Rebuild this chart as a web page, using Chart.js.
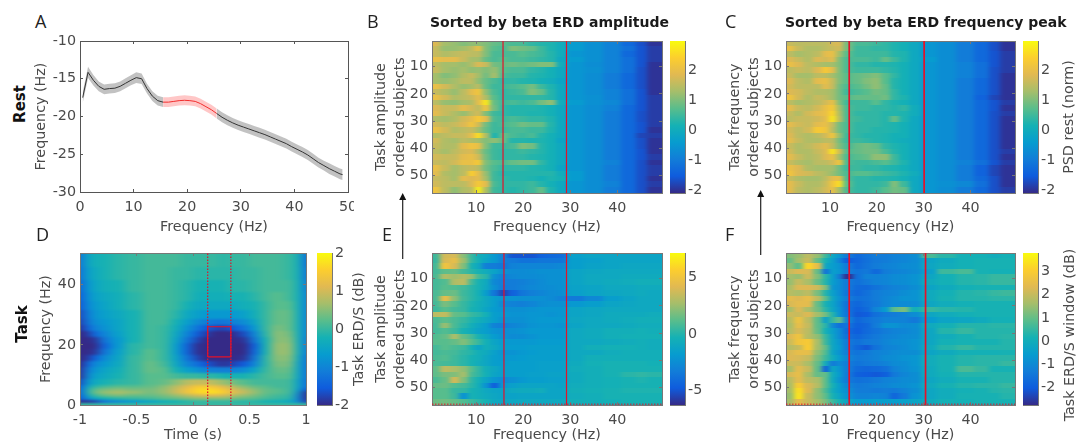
<!DOCTYPE html>
<html>
<head>
<meta charset="utf-8">
<script src="https://cdn.jsdelivr.net/npm/chart.js@4"></script>
<style>
html, body { margin: 0; background: #fff; }
#fig { position: relative; width: 1077px; height: 446px; overflow: hidden; background: #fff; filter: blur(0.4px); font-family: "DejaVu Sans", sans-serif; color: #222; }
#fig canvas { position: absolute; }
.cells { position: absolute; overflow: hidden; background: #18a4bc; }
.txt { position: absolute; white-space: nowrap; }
.letter { font: 18px "Open Sans", sans-serif; color: #222; }
.head { font: bold 14px "DejaVu Sans", sans-serif; color: #1a1a1a; }
.side { font: bold 15px "DejaVu Sans", sans-serif; color: #111; transform: translate(-50%, -50%) rotate(-90deg); }
.cbt { font: 14.3px "DejaVu Sans", sans-serif; color: #4a4a4a; transform: translate(-50%, -50%) rotate(-90deg); }
</style>
</head>
<body>
<svg width="0" height="0" style="position:absolute">
  <filter id="softRows" x="-5%" y="-5%" width="110%" height="110%" color-interpolation-filters="sRGB"><feGaussianBlur stdDeviation="2.5 0.6"/></filter>
  <filter id="softMap" x="-5%" y="-5%" width="110%" height="110%" color-interpolation-filters="sRGB"><feGaussianBlur stdDeviation="5 1.2"/></filter>
</svg>
<div id="fig"></div>
<script>
// panel A, mean rest spectrum
var freqA = [0.5,1.5,2.5,3.5,4.5,5.5,6.5,7.5,8.5,9.5,10.5,11.5,12.5,13.5,14.5,15.5,16.5,17.5,18.5,19.5,20.5,21.5,22.5,23.5,24.5,25.5,26.5,27.5,28.5,29.5,30.5,31.5,32.5,33.5,34.5,35.5,36.5,37.5,38.5,39.5,40.5,41.5,42.5,43.5,44.5,45.5,46.5,47.5,48.5,49];
var meanA = [-17.5,-14.15,-15.2,-16,-16.4,-16.3,-16.25,-16,-15.6,-15.2,-14.85,-15,-16.3,-17.3,-17.9,-18.1,-18.1,-18,-17.9,-17.85,-17.9,-18,-18.3,-18.7,-19.1,-19.6,-20.1,-20.5,-20.85,-21.15,-21.4,-21.65,-21.9,-22.15,-22.4,-22.7,-23,-23.3,-23.6,-24,-24.35,-24.7,-25.1,-25.6,-26.1,-26.5,-26.9,-27.25,-27.6,-27.7];
var semA = [0.7,0.75,0.7,0.65,0.65,0.65,0.65,0.65,0.65,0.65,0.7,0.7,0.65,0.65,0.65,0.65,0.65,0.65,0.65,0.65,0.65,0.65,0.65,0.65,0.65,0.65,0.65,0.65,0.65,0.65,0.65,0.65,0.65,0.65,0.65,0.65,0.65,0.65,0.65,0.65,0.65,0.65,0.65,0.65,0.65,0.65,0.7,0.7,0.72,0.72];
var betaBandA = [15.5, 25.5];

// shared heatmap bins, subjects are grouped in pairs
var freqEdges = [0.5,2.5,4.5,6.5,8.5,10,11.5,13,15,17,19,21,23,25,27,29.5,33,37,41,44,46.5,49.5];
var subjEdges = [0.5,2.5,4.5,6.5,8.5,10.5,12.5,14.5,16.5,18.5,20.5,22.5,24.5,26.5,28.5,30.5,32.5,34.5,36.5,38.5,40.5,42.5,44.5,46.5,48.5,50.5,52.5,54.5,56.5];

var valuesB = [
[1.8,1.3,1.2,1.0,1.1,1.1,1.0,0.8,0.7,0.6,0.6,0.4,0.3,0.2,0.0,-0.4,-0.6,-0.9,-1.3,-1.7,-2.0],
[1.6,1.2,1.2,1.3,1.5,2.0,1.0,0.7,0.6,1.0,0.9,0.8,0.5,0.2,0.0,-0.4,-0.6,-0.9,-1.2,-1.6,-1.9],
[1.6,1.4,1.5,1.6,1.5,1.5,1.0,0.6,0.6,0.6,0.7,0.6,0.5,0.3,0.0,-0.5,-0.6,-0.9,-1.3,-1.6,-1.9],
[2.0,1.9,1.9,1.6,1.3,1.3,0.8,0.6,0.7,0.6,0.6,0.5,0.4,0.3,-0.1,-0.4,-0.6,-0.9,-1.2,-1.6,-1.9],
[1.5,1.3,1.3,1.2,1.4,1.8,1.6,0.9,0.8,0.9,0.8,0.9,1.0,1.0,0.0,-0.5,-0.7,-0.9,-1.2,-1.6,-2.0],
[1.6,1.3,1.2,1.3,1.1,1.2,1.0,1.2,0.7,0.6,0.6,0.4,0.3,0.1,-0.1,-0.5,-0.6,-0.9,-1.2,-1.7,-2.0],
[1.3,1.0,1.1,1.4,1.6,1.3,0.9,1.3,0.6,0.5,0.5,0.3,0.2,0.1,-0.1,-0.5,-0.7,-1.0,-1.3,-1.7,-2.0],
[1.3,1.2,1.3,1.5,1.5,1.1,0.8,0.6,0.4,0.4,0.3,0.2,0.1,0.0,-0.2,-0.5,-0.7,-1.0,-1.3,-1.7,-2.0],
[2.0,1.7,1.4,1.2,1.3,1.5,0.8,0.5,0.5,0.6,0.7,0.9,0.5,0.2,-0.1,-0.5,-0.7,-1.0,-1.3,-1.7,-2.0],
[1.6,1.4,1.2,1.5,1.9,2.2,1.1,0.6,0.4,0.5,0.6,1.0,0.8,0.3,-0.1,-0.5,-0.7,-0.9,-1.2,-1.6,-2.0],
[2.0,1.7,1.4,1.5,1.6,1.9,1.4,0.7,0.4,0.4,0.4,0.4,0.4,0.3,-0.1,-0.5,-0.6,-0.9,-1.2,-1.6,-1.9],
[1.5,1.2,1.1,1.3,1.4,1.9,2.7,0.8,0.5,0.6,0.5,0.6,0.9,1.1,0.0,-0.4,-0.6,-0.8,-1.2,-1.6,-1.9],
[1.8,1.6,1.6,1.9,1.7,1.5,2.1,0.9,0.4,0.3,0.3,0.3,0.2,0.1,-0.1,-0.5,-0.7,-0.9,-1.3,-1.6,-1.9],
[1.9,1.6,1.4,1.2,1.5,1.7,1.0,0.5,0.4,0.3,0.3,0.2,0.2,0.1,-0.1,-0.5,-0.7,-1.0,-1.3,-1.7,-1.9],
[1.4,1.3,1.4,1.7,1.9,2.3,1.9,0.6,0.5,0.6,0.5,0.4,0.4,0.2,-0.1,-0.5,-0.7,-1.0,-1.3,-1.7,-1.9],
[1.7,1.5,1.6,1.8,2.2,1.7,0.9,0.5,0.6,0.7,0.9,0.8,0.8,0.3,-0.1,-0.5,-0.7,-1.0,-1.3,-1.6,-1.9],
[2.0,1.7,1.4,1.5,1.6,1.3,0.8,0.5,0.5,0.6,0.6,0.5,0.5,0.2,-0.1,-0.5,-0.7,-1.0,-1.3,-1.6,-2.0],
[1.4,1.5,1.6,1.6,1.9,2.6,1.4,0.2,0.8,0.6,0.5,0.6,0.3,0.1,-0.1,-0.5,-0.7,-1.0,-1.3,-1.8,-1.9],
[1.7,1.4,1.3,1.5,1.4,1.3,1.0,1.1,0.8,0.3,0.3,0.2,0.2,0.1,-0.2,-0.5,-0.7,-1.0,-1.3,-1.7,-2.0],
[1.6,1.4,1.4,1.9,2.1,2.0,1.0,0.5,0.5,0.6,1.0,0.9,0.3,0.1,-0.1,-0.5,-0.7,-1.0,-1.3,-1.7,-2.0],
[1.5,1.3,1.5,1.7,1.8,1.4,0.8,0.5,0.4,0.4,0.5,0.4,0.3,0.1,-0.1,-0.5,-0.7,-1.0,-1.3,-1.6,-2.0],
[1.7,1.6,1.6,1.9,2.0,1.7,0.9,0.5,0.4,0.4,0.4,0.3,0.2,0.1,-0.1,-0.5,-0.7,-1.0,-1.3,-1.6,-1.9],
[1.6,1.5,1.7,2.0,2.0,2.3,1.0,0.7,0.6,0.8,0.9,0.9,0.4,0.1,-0.1,-0.5,-0.7,-0.9,-1.3,-1.7,-2.0],
[2.0,1.6,1.3,1.5,1.6,1.5,0.9,0.6,0.4,0.4,0.4,0.3,0.2,0.1,-0.2,-0.5,-0.7,-1.0,-1.3,-1.7,-1.9],
[1.9,1.4,1.3,1.5,2.4,1.9,1.2,0.5,0.3,0.3,0.3,0.3,0.3,0.3,0.0,-0.4,-0.7,-1.0,-1.3,-1.7,-1.9],
[1.6,1.5,1.3,1.9,1.8,1.9,1.3,0.5,0.4,0.3,0.3,0.2,0.1,0.2,0.1,-0.4,-0.7,-1.0,-1.3,-1.7,-2.0],
[1.7,1.5,1.5,1.5,1.8,2.3,1.9,0.6,0.4,0.4,0.4,0.5,0.3,0.1,-0.1,-0.5,-0.7,-0.9,-1.3,-1.7,-1.9],
[2.1,1.5,1.1,1.4,1.5,2.8,1.4,0.5,0.4,0.3,0.4,0.5,0.8,0.2,-0.1,-0.5,-0.7,-1.0,-1.3,-1.7,-2.0]
];

var valuesC = [
[1.6,1.5,1.5,1.5,1.5,1.7,1.8,0.9,0.6,0.6,0.5,0.4,0.2,0.1,-0.1,-0.5,-0.7,-1.0,-1.3,-1.7,-2.0],
[2.0,1.6,1.4,1.4,1.5,1.6,1.7,0.9,0.5,0.5,0.4,0.4,0.2,0.1,-0.1,-0.5,-0.7,-1.0,-1.3,-1.7,-2.0],
[1.5,1.3,1.4,1.5,1.9,2.0,1.3,0.7,0.5,0.5,0.5,0.5,0.3,0.2,-0.1,-0.5,-0.7,-1.0,-1.3,-1.6,-1.9],
[1.8,1.6,1.4,1.8,1.7,1.9,1.0,0.6,0.6,0.6,0.5,0.8,0.5,0.2,-0.1,-0.4,-0.7,-1.0,-1.3,-1.6,-1.9],
[2.0,1.8,1.5,1.4,1.3,1.3,1.0,0.6,0.4,0.4,0.3,0.3,0.2,0.1,-0.1,-0.5,-0.7,-0.9,-1.2,-1.6,-1.9],
[1.5,1.6,1.5,1.8,2.3,1.9,1.0,0.6,0.5,0.5,0.5,0.4,0.3,0.1,-0.1,-0.5,-0.7,-0.9,-1.2,-1.7,-1.9],
[1.6,1.3,1.3,1.5,1.5,1.3,1.0,0.7,0.8,0.9,1.0,0.7,0.4,0.1,-0.1,-0.5,-0.7,-0.9,-1.2,-1.7,-2.0],
[1.8,1.5,1.4,1.9,2.0,1.6,1.0,0.7,0.8,1.0,1.1,0.7,0.3,0.1,-0.1,-0.5,-0.7,-1.0,-1.3,-1.7,-2.0],
[1.7,1.5,1.5,1.5,1.9,1.6,0.9,0.6,0.7,0.9,1.1,0.8,0.3,0.1,-0.1,-0.5,-0.7,-1.0,-1.3,-1.7,-2.0],
[1.8,1.7,1.5,1.4,1.4,1.3,0.9,0.5,0.6,0.7,0.9,0.8,0.4,0.1,-0.1,-0.5,-0.7,-1.0,-1.3,-1.7,-2.0],
[2.1,1.7,1.4,1.6,1.5,1.3,0.9,0.7,0.8,0.8,0.8,0.9,0.4,0.2,-0.1,-0.5,-0.7,-1.0,-1.4,-1.8,-2.0],
[1.5,1.3,1.4,1.5,1.7,2.0,1.0,0.5,0.5,0.5,0.7,0.4,0.2,0.1,-0.1,-0.5,-0.7,-1.0,-1.3,-1.6,-1.9],
[1.9,1.6,1.5,1.7,2.0,2.3,1.3,0.6,0.5,0.5,0.4,0.4,0.3,0.4,0.0,-0.5,-0.7,-1.0,-1.3,-1.6,-2.0],
[1.6,1.4,1.7,1.9,2.0,2.5,1.4,0.6,0.4,0.4,0.4,0.3,0.3,0.2,0.0,-0.5,-0.7,-1.0,-1.3,-1.7,-1.9],
[1.5,1.6,1.6,1.7,1.9,2.7,1.5,0.6,0.5,0.4,0.4,0.3,0.8,0.2,-0.1,-0.5,-0.7,-1.0,-1.3,-1.7,-2.0],
[1.9,1.7,1.6,1.9,2.0,1.6,0.9,0.6,0.4,0.4,0.4,0.3,0.2,0.1,-0.1,-0.5,-0.7,-1.0,-1.3,-1.7,-2.0],
[1.7,1.5,1.7,2.3,2.2,1.5,0.9,0.6,0.4,0.4,0.3,0.3,0.2,0.1,-0.1,-0.5,-0.7,-1.0,-1.3,-1.7,-2.0],
[1.8,1.5,1.4,1.5,1.7,2.2,1.2,0.5,0.4,0.3,0.3,0.2,0.1,0.1,-0.1,-0.5,-0.7,-1.0,-1.3,-1.7,-2.0],
[1.9,1.6,1.4,1.4,1.5,1.5,0.9,0.5,0.5,0.4,0.3,0.2,0.1,0.0,-0.1,-0.5,-0.7,-1.0,-1.3,-1.7,-2.0],
[1.6,1.4,1.5,1.7,1.9,1.6,1.0,0.6,0.8,0.9,0.8,0.4,0.2,0.1,-0.1,-0.5,-0.7,-1.0,-1.3,-1.7,-2.0],
[1.7,1.4,1.4,1.6,1.8,2.7,1.7,0.7,0.8,0.9,0.9,0.6,0.3,0.1,-0.1,-0.5,-0.7,-1.0,-1.3,-1.7,-1.9],
[1.9,1.6,1.4,1.5,1.8,2.0,1.3,0.6,0.7,0.8,1.1,1.1,0.5,0.1,-0.1,-0.5,-0.7,-1.0,-1.3,-1.7,-2.0],
[1.6,1.4,1.3,1.5,1.5,1.7,2.2,0.6,0.5,0.5,0.6,0.7,0.5,0.2,-0.1,-0.5,-0.7,-0.9,-1.2,-1.6,-1.9],
[2.0,1.8,1.4,1.3,1.3,1.3,0.9,0.5,0.5,0.4,0.4,0.3,0.2,0.1,-0.1,-0.5,-0.7,-1.0,-1.4,-1.8,-2.0],
[2.1,1.8,1.7,1.5,1.4,1.2,0.9,0.6,0.7,0.7,0.6,0.5,0.4,0.2,0.0,-0.5,-0.7,-1.0,-1.4,-1.8,-2.0],
[1.6,1.4,1.3,1.3,1.5,1.9,2.0,0.6,0.4,0.4,0.3,0.3,0.2,0.1,-0.1,-0.5,-0.7,-1.0,-1.3,-1.7,-2.0],
[1.9,1.6,1.4,1.4,1.6,2.2,2.6,0.7,0.4,0.4,0.4,0.5,1.0,0.5,-0.1,-0.5,-0.6,-0.8,-1.2,-1.7,-2.0],
[1.9,1.5,1.4,1.5,1.7,2.0,1.3,0.6,0.4,0.4,0.5,0.7,0.9,0.8,-0.1,-0.5,-0.7,-1.0,-1.3,-1.7,-1.9]
];

var valuesE = [
[0.6,3.8,4.0,2.2,0.4,-0.6,-1.0,-2.0,-3.0,-5.0,-5.0,-5.0,-4.5,-4.2,-4.0,-1.5,-1.3,-1.3,-1.2,-1.2,-1.2],
[0.5,4.0,4.5,2.5,0.5,-0.4,-1.2,-2.0,-3.2,-3.5,-3.7,-3.8,-3.6,-3.6,-3.6,-1.6,-1.5,-1.3,-1.2,-1.2,-1.2],
[0.7,5.0,4.0,2.0,-0.2,-1.0,-3.2,-3.4,-3.6,-3.0,-2.9,-2.9,-2.9,-2.9,-2.8,-1.6,-1.4,-1.2,-1.1,-1.1,-1.1],
[0.7,1.3,1.5,0.8,0.1,-0.3,-0.7,-1.4,-2.4,-2.6,-2.6,-2.5,-2.4,-2.4,-2.4,-1.3,-1.1,-1.0,-1.0,-0.9,-0.9],
[0.9,3.0,2.5,3.0,2.4,0.7,0.1,-2.4,-3.2,-2.8,-2.6,-2.7,-2.5,-2.4,-2.4,-1.2,-1.0,-1.0,-0.8,-0.8,-0.8],
[0.7,1.0,3.0,3.3,0.7,-0.2,-0.8,-2.8,-3.3,-3.3,-3.2,-2.9,-2.6,-2.4,-2.3,-1.2,-1.0,-0.8,-0.7,-0.6,-0.6],
[0.8,1.2,1.0,0.7,0.2,-0.3,-1.0,-2.4,-3.5,-3.3,-3.0,-2.8,-2.7,-2.5,-2.4,-1.4,-1.2,-1.0,-0.9,-0.8,-0.8],
[0.9,1.5,1.6,0.6,0.1,-0.4,-1.6,-3.6,-5.5,-4.5,-3.6,-3.2,-2.9,-2.7,-2.5,-1.5,-1.2,-1.1,-0.9,-0.8,-0.9],
[0.9,4.5,2.2,0.7,0.1,-0.3,-0.9,-1.7,-2.2,-2.2,-2.3,-2.4,-2.4,-2.6,-3.0,-3.5,-2.8,-1.6,-1.2,-1.0,-1.0],
[0.7,1.8,1.2,0.4,-0.1,-0.5,-0.9,-1.7,-2.8,-3.1,-3.2,-2.9,-2.5,-2.4,-2.3,-1.9,-1.6,-1.2,-1.1,-1.0,-1.0],
[0.6,1.2,0.8,0.4,-0.2,-0.5,-1.2,-1.8,-2.2,-2.3,-2.3,-2.2,-2.1,-2.1,-2.1,-1.2,-1.1,-1.0,-0.9,-0.9,-0.9],
[3.2,3.4,1.4,1.2,0.5,0.1,-0.4,-1.6,-2.0,-2.2,-2.2,-2.1,-2.1,-2.2,-2.1,-1.2,-1.1,-0.8,-0.8,-0.8,-0.7],
[0.9,1.3,0.9,0.5,-0.1,-0.5,-0.9,-1.6,-2.3,-2.3,-2.4,-2.1,-2.0,-2.0,-2.0,-1.1,-1.0,-0.8,-0.7,-0.6,-0.6],
[0.7,2.4,0.9,0.2,-0.5,-1.1,-1.6,-3.0,-3.4,-2.9,-2.7,-2.2,-2.1,-2.1,-2.2,-1.3,-1.0,-0.9,-0.8,-0.7,-0.7],
[0.7,1.0,0.6,-0.2,-0.8,-1.4,-1.6,-2.2,-2.5,-2.4,-2.2,-2.0,-1.9,-1.9,-1.9,-1.0,-0.8,-0.6,-0.5,-0.4,-0.5],
[1.0,1.4,2.9,1.4,0.7,-0.2,-0.9,-1.8,-2.4,-2.6,-2.5,-2.2,-2.0,-2.0,-2.0,-1.0,-0.8,-0.6,-0.4,-0.4,-0.4],
[1.1,1.2,1.5,2.0,1.2,0.4,-0.4,-1.2,-1.8,-1.9,-1.9,-1.9,-1.8,-1.8,-1.8,-1.0,-0.9,-0.8,-0.7,-0.6,-0.7],
[0.8,1.1,0.9,0.6,-0.2,-1.2,-0.5,-1.0,-1.6,-1.8,-1.8,-1.7,-1.6,-1.7,-1.7,-1.0,-0.5,-0.4,-0.4,-0.6,-0.7],
[0.7,0.9,0.7,0.3,0.0,-0.6,-0.8,-1.5,-2.2,-2.2,-2.0,-1.8,-1.7,-1.7,-1.6,-1.0,-0.9,-0.7,-0.6,-0.6,-0.6],
[0.9,1.0,0.6,0.2,-0.3,-0.6,-1.1,-1.7,-1.9,-1.9,-1.8,-1.7,-1.6,-1.6,-1.6,-0.9,-0.6,-0.5,-0.5,-0.5,-0.6],
[0.9,0.8,0.6,0.1,-0.3,-0.7,-1.1,-1.6,-1.8,-1.7,-1.7,-1.6,-1.5,-1.5,-1.5,-0.8,-0.4,-0.2,-0.2,-0.3,-0.4],
[1.3,3.3,2.9,2.3,1.2,0.3,-0.5,-1.1,-1.7,-1.7,-1.6,-1.6,-1.5,-1.5,-1.5,-0.7,-0.5,-0.3,-0.3,-0.3,-0.3],
[1.3,1.8,2.0,2.7,0.9,0.3,-0.4,-1.2,-1.7,-1.7,-1.6,-1.5,-1.5,-1.4,-1.4,-0.8,-0.5,-0.2,0.1,0.3,0.2],
[0.9,1.5,3.8,2.0,0.3,-0.4,-1.2,-2.1,-2.7,-2.3,-1.9,-1.7,-1.6,-1.5,-1.5,-0.8,-0.6,-0.4,-0.2,-0.1,-0.2],
[1.4,1.6,1.0,0.8,0.2,-0.6,-2.2,-4.6,-2.0,-1.5,-1.2,-1.2,-1.3,-1.3,-1.4,-0.7,-0.5,-0.4,-0.3,-0.3,-0.3],
[1.1,1.1,0.5,0.3,-0.2,-0.5,-0.9,-1.2,-1.4,-1.0,-0.8,-0.8,-0.7,-1.2,-1.3,-0.6,-0.4,-0.2,-0.1,-0.1,-0.1],
[1.2,1.2,0.6,-2.2,-0.2,-0.5,-0.8,-1.1,-1.4,-1.4,-1.3,-1.2,-1.2,-1.2,-1.2,-0.7,-0.5,-0.3,-0.2,-0.2,-0.2],
[1.6,1.7,1.5,1.0,0.6,0.2,-0.3,-0.9,-1.1,-1.1,-1.0,-1.0,-1.0,-1.0,-1.0,-0.6,-0.5,-0.4,-0.3,-0.2,-0.3]
];

var valuesF = [
[1.3,1.5,1.9,1.5,0.6,-0.2,-0.7,-1.4,-1.7,-1.5,-1.3,-1.3,-1.2,-1.1,-0.9,0.7,0.4,0.1,0.1,0.0,0.1],
[1.0,1.6,2.0,1.0,0.2,-0.4,-1.2,-2.0,-1.8,-1.6,-1.4,-1.3,-1.2,-1.1,-1.0,-0.3,-0.1,0.1,0.2,0.2,0.2],
[1.4,0.9,3.2,2.5,-0.2,-0.5,-0.8,-1.4,-1.7,-1.5,-1.3,-1.2,-1.1,-1.0,-0.9,-0.2,0.0,0.1,0.2,0.2,0.2],
[2.0,2.3,2.2,1.0,-1.6,-0.4,-0.7,-1.3,-1.5,-1.4,-1.7,-1.3,-1.2,-1.1,-1.0,-0.4,0.6,0.7,0.2,0.1,0.1],
[1.6,1.5,2.1,1.3,0.4,-0.4,-1.3,-2.7,-1.6,-1.2,-1.2,-1.1,-1.0,-0.9,-0.8,-0.2,0.1,0.3,0.4,0.5,0.5],
[1.5,2.0,1.7,1.0,0.3,-0.5,-0.9,-1.4,-1.6,-1.4,-1.2,-1.1,-1.0,-0.9,-0.8,-0.1,0.1,0.3,0.4,0.5,0.5],
[1.7,2.3,2.3,2.1,1.3,-0.7,-0.9,-1.4,-1.7,-1.7,-1.5,-1.3,-1.2,-1.1,-0.9,-0.3,-0.1,0.1,0.2,0.2,0.2],
[1.8,1.7,1.9,1.2,0.3,-0.4,-0.9,-1.5,-1.8,-1.6,-1.3,-1.2,-1.1,-0.9,-0.8,-0.1,0.1,0.3,0.4,0.5,0.6],
[2.4,2.3,2.5,1.9,0.9,-0.2,-0.8,-1.3,-1.6,-1.5,-1.3,-1.1,-1.0,-0.8,-0.8,-0.1,0.2,0.3,0.3,0.4,0.4],
[2.2,2.4,2.4,1.0,0.2,-0.3,-0.9,-1.6,-1.8,-1.6,-1.4,-1.1,-1.0,-1.0,-0.9,-0.2,0.0,0.1,0.2,0.2,0.2],
[1.6,2.3,1.7,1.1,0.4,-0.2,-0.8,-1.6,-1.9,-1.7,-1.1,-0.6,0.9,1.2,0.1,0.5,0.4,0.3,0.2,0.2,0.2],
[2.1,2.0,2.3,1.6,1.1,0.3,-0.8,-1.5,-2.1,-2.0,-1.6,-1.4,-1.3,-1.2,-0.9,-0.2,0.0,0.1,0.2,0.2,0.2],
[1.8,2.6,1.9,0.9,-0.4,0.5,1.0,-1.2,-1.8,-1.6,-1.4,-1.2,-1.2,-1.2,-1.4,-0.6,-0.3,-0.2,-0.1,0.1,0.1],
[1.7,2.5,2.0,0.9,0.4,-1.0,-1.6,-1.5,-1.9,-1.8,-1.3,-0.8,-0.8,-1.0,-0.9,-0.1,0.1,0.3,0.3,0.4,0.4],
[1.8,2.2,1.9,1.0,0.1,-0.4,-1.0,-1.7,-2.0,-1.7,-1.5,-1.3,-1.2,-1.1,-1.0,-0.2,0.3,0.5,0.3,0.3,0.3],
[2.3,2.7,1.8,1.4,0.5,-0.3,-1.0,-1.6,-1.8,-1.6,-1.4,-1.2,-1.1,-1.0,-0.9,-0.2,0.0,0.2,0.3,0.3,0.4],
[2.1,2.8,2.9,1.7,0.6,-0.2,-0.7,-1.4,-1.6,-1.4,-1.3,-1.1,-1.0,-0.9,-0.8,-0.2,0.1,0.2,0.2,0.2,0.3],
[1.8,2.0,3.0,1.6,1.0,-0.2,-0.6,-1.4,-1.8,-2.1,-1.5,-1.2,-1.1,-1.0,-0.8,-0.1,0.3,0.5,0.3,0.3,0.3],
[2.2,2.5,2.5,1.4,0.8,-0.3,-0.8,-1.3,-1.5,-1.4,-1.2,-1.1,-1.0,-0.9,-0.9,-0.3,-0.1,0.1,0.1,0.1,0.2],
[2.3,2.2,2.0,1.2,0.6,0.0,-0.6,-1.1,-1.4,-1.3,-1.2,-1.0,-0.9,-0.8,-0.7,0.0,0.2,0.3,0.4,0.4,0.4],
[2.1,2.1,1.7,1.0,0.0,-1.4,-1.0,-1.3,-1.5,-1.4,-1.3,-1.2,-1.0,-0.9,-0.7,0.0,0.2,0.3,0.4,0.4,0.5],
[1.6,2.4,2.0,0.9,-1.9,-0.2,-0.7,-1.3,-1.7,-1.8,-1.7,-1.6,-1.2,-1.0,-0.8,-0.1,0.2,0.7,0.5,0.2,0.2],
[2.2,2.5,1.7,1.0,1.0,0.0,-0.6,-1.4,-1.9,-2.0,-2.1,-1.9,-1.4,-1.1,-0.9,-0.1,0.1,0.3,0.3,0.3,0.3],
[1.8,2.4,1.9,1.7,0.9,-0.1,-0.8,-1.4,-1.6,-1.5,-1.4,-1.2,-1.1,-1.0,-0.9,-0.2,0.0,0.2,0.2,0.3,0.3],
[1.7,3.0,2.2,1.8,0.9,0.2,-0.5,-1.1,-1.4,-1.3,-1.2,-1.1,-1.0,-0.9,-0.8,-0.1,0.2,0.3,0.4,0.4,0.5],
[1.6,3.3,2.3,1.4,0.7,0.0,-0.5,-0.9,-1.3,-1.3,-1.4,-1.3,-1.4,-1.2,-0.9,-0.2,0.0,0.1,0.2,0.3,0.4],
[1.5,3.4,2.0,1.4,0.9,0.2,-0.3,-0.8,-1.2,-1.2,-1.1,-1.2,-1.8,-1.4,-0.8,-0.2,0.0,0.2,0.2,0.2,0.3],
[1.6,2.4,2.0,1.6,1.2,0.6,0.2,-0.3,-0.6,-0.6,-0.5,-0.5,-0.5,-0.4,-0.3,-0.1,0.1,0.1,0.2,0.2,0.2]
];

// panel D, event related map
var timeEdgesD = [-1,-0.96,-0.9,-0.82,-0.72,-0.6,-0.45,-0.3,-0.2,-0.1,0,0.08,0.16,0.24,0.32,0.4,0.5,0.6,0.7,0.8,0.9,0.97,1];
var freqEdgesD = [0,1,2,3,4,5,6,7,9,11,13,15,17,19,21,23,25,27,29,32,35,38,42,46,50.5];
var valuesD = [
[0,0,0,0,0,0,0,0,0,0,0,0,0,0,0,0,0,0,0,0,0,0],
[-1.9,-1.9,-1.8,-1.2,-0.9,-0.7,-0.5,-0.3,-0.2,-0.1,0,0,0,0,0,-0.1,-0.1,-0.2,-0.3,-0.4,-0.9,-1.8],
[-1.6,-0.9,-0.5,-0.2,-0.1,0,0.1,0.2,0.3,0.4,0.5,0.5,0.5,0.5,0.4,0.3,0.2,0.1,0,-0.1,-1,-1.9],
[-1.5,-0.5,0,0.3,0.4,0.3,0.3,0.4,0.6,0.8,1,1.1,1.1,1,0.8,0.6,0.4,0.2,0.1,0,-1,-1.9],
[-1.4,-0.3,0.3,0.6,0.7,0.6,0.4,0.6,0.9,1.3,1.6,1.7,1.7,1.5,1.2,0.9,0.6,0.3,0.2,0.1,-0.8,-1.9],
[-1.4,-0.3,0.2,0.4,0.5,0.4,0.4,0.6,0.9,1.3,1.6,1.7,1.6,1.4,1.1,0.8,0.5,0.3,0.2,0.1,-0.6,-1.6],
[-1.5,-0.5,-0.1,0.1,0.2,0.2,0.3,0.5,0.8,1.1,1.4,1.4,1.3,1.1,0.8,0.5,0.3,0.2,0.1,0.1,-0.5,-1.3],
[-1.7,-0.8,-0.4,-0.2,-0.1,0,0.2,0.3,0.5,0.8,0.9,0.9,0.8,0.6,0.4,0.2,0.1,0.1,0.1,0.1,-0.5,-1.3],
[-1.9,-1.1,-0.6,-0.4,-0.2,0,0.2,0.2,0.1,0,0,-0.1,-0.1,-0.2,-0.2,-0.2,-0.1,0.1,0.2,0.2,-0.4,-1.2],
[-1.9,-1.2,-0.8,-0.5,-0.3,0,0.3,0.2,-0.2,-0.6,-0.8,-1,-1.1,-1.1,-1.1,-0.9,-0.5,0,0.3,0.3,-0.4,-1.2],
[-2,-1.5,-1,-0.7,-0.4,0,0.3,0.1,-0.4,-1,-1.3,-1.6,-1.8,-1.9,-1.8,-1.6,-1,-0.1,0.4,0.4,-0.4,-1.2],
[-2,-1.9,-1.5,-0.9,-0.5,0,0.2,0,-0.5,-1.2,-1.7,-2,-2,-2,-2,-1.9,-1.2,-0.1,0.5,0.5,-0.3,-1.2],
[-2,-2,-1.9,-1.2,-0.6,-0.1,0.2,0,-0.6,-1.4,-1.9,-2,-2,-2,-2,-2,-1.4,-0.2,0.6,0.6,-0.2,-1.1],
[-2,-2,-2,-1.4,-0.7,-0.1,0.1,0,-0.6,-1.4,-1.9,-2,-2,-2,-2,-2,-1.5,-0.2,0.6,0.6,-0.2,-1.1],
[-2,-2,-1.9,-1.2,-0.7,-0.2,0.1,0,-0.5,-1.2,-1.7,-2,-2,-2,-2,-1.9,-1.2,-0.2,0.5,0.5,-0.2,-1.1],
[-2,-1.9,-1.4,-1,-0.6,-0.2,0.1,0,-0.4,-1,-1.5,-1.8,-2,-2,-2,-1.7,-1,-0.1,0.5,0.4,-0.2,-1],
[-1.9,-1.5,-1.1,-0.8,-0.5,-0.2,0.1,0,-0.3,-0.8,-1.2,-1.5,-1.7,-1.8,-1.6,-1.3,-0.7,0,0.4,0.3,-0.2,-1],
[-1.8,-1.3,-0.9,-0.7,-0.5,-0.2,0.1,0.1,-0.2,-0.6,-0.9,-1.1,-1.2,-1.2,-1.1,-0.9,-0.5,0,0.3,0.3,-0.2,-1],
[-1.7,-1.2,-0.8,-0.6,-0.4,-0.2,0.1,0.1,-0.1,-0.4,-0.6,-0.7,-0.7,-0.7,-0.7,-0.6,-0.3,0,0.3,0.3,-0.2,-1],
[-1.6,-1,-0.7,-0.5,-0.3,-0.1,0.1,0.1,0,-0.2,-0.4,-0.4,-0.4,-0.4,-0.4,-0.3,-0.2,0,0.2,0.2,-0.2,-1],
[-1.5,-0.9,-0.6,-0.4,-0.3,-0.1,0.1,0.1,0,-0.1,-0.3,-0.3,-0.3,-0.3,-0.2,-0.2,-0.1,0.1,0.2,0.1,-0.2,-1],
[-1.4,-0.8,-0.5,-0.3,-0.2,0,0.1,0.1,0,-0.1,-0.2,-0.2,-0.2,-0.2,-0.1,-0.1,0,0.1,0.1,0.1,-0.2,-1.1],
[-1.3,-0.6,-0.4,-0.2,-0.1,0,0.1,0.1,0,0,-0.1,-0.1,-0.1,-0.1,-0.1,0,0,0.1,0.1,0,-0.2,-1.2],
[-1.2,-0.5,-0.3,-0.2,-0.1,0,0.1,0.1,0.1,0,0,0,0,-0.1,0,0,0.1,0.1,0.1,0,-0.2,-1.3]
];

// tick labels, colour limits, marked windows
var freqTicks = [10,20,30,40];
var subjTicks = [10,20,30,40,50];
var xTicksA = [0,10,20,30,40,50];
var yTicksA = [-30,-25,-20,-15,-10];
var xTicksD = [-1,-0.5,0,0.5,1];
var yTicksD = [0,20,40];
var climB = [-2.1,2.97];
var climD = [-2,2];
var climE = [-6.3,7.2];
var climF = [-2.75,3.79];
var cbTicksB = [-2,-1,0,1,2];
var cbTicksD = [-2,-1,0,1,2];
var cbTicksE = [-5,0,5];
var cbTicksF = [-2,-1,0,1,2,3];
var bandB = [15.7,29.2];
var bandC = [14.1,30.1];
var bandE = [15.9,29.2];
var bandF = [14.1,30.4];
var windowD = [0.13,0.335];
var windowFreqD = [16,26];

// parula stops
var parula = [[53,42,135],[15,92,221],[18,125,216],[7,156,207],[21,177,180],[89,189,140],[165,190,107],[225,185,82],[252,206,46],[249,251,14]];

var FONT = { family: '"DejaVu Sans", sans-serif', size: 14.3, lineHeight: 1.3 };
var INK = '#4a4a4a';
var RED = '#e3122a';
var fig = document.getElementById('fig');
var imgCache = {};

function parulaAt(t) {
    t = Math.max(0, Math.min(1, t)) * (parula.length - 1);
    var i = Math.min(Math.floor(t), parula.length - 2), f = t - i;
    var a = parula[i], b = parula[i + 1];
    return 'rgb(' + Math.round(a[0] + (b[0] - a[0]) * f) + ',' + Math.round(a[1] + (b[1] - a[1]) * f) + ',' + Math.round(a[2] + (b[2] - a[2]) * f) + ')';
}

function addCanvas(parent, l, t, w, h) {
    var c = document.createElement('canvas');
    c.width = w; c.height = h;
    c.style.left = l + 'px'; c.style.top = t + 'px';
    c.style.width = w + 'px'; c.style.height = h + 'px';
    parent.appendChild(c);
    return c;
}

// inward ticked box axis
function axis(pos, min, max, ticks, opt) {
    opt = opt || {};
    var horiz = pos === 'top' || pos === 'bottom';
    return {
        type: 'linear', position: pos, min: min, max: max, reverse: !!opt.reverse,
        axis: horiz ? 'x' : 'y',
        grid: { drawOnChartArea: false, tickLength: -3, tickColor: opt.color || '#555' },
        border: { color: opt.color || '#666', width: 1 },
        title: opt.title ? { display: true, text: opt.title, color: INK, font: FONT, padding: 0 } : { display: false },
        ticks: { display: !!opt.labels, color: INK, font: FONT, padding: opt.padding || 8, autoSkip: false, maxRotation: 0, callback: function (v) { return String(v); } },
        afterBuildTicks: function (s) { s.ticks = ticks.map(function (v) { return { value: v }; }); },
        afterFit: function (s) {
            if (horiz) s.height = opt.size || 0; else s.width = opt.size || 0;
            s.paddingTop = s.paddingBottom = s.paddingLeft = s.paddingRight = 0;
        }
    };
}

function boxScales(b) {
    return {
        x: axis('bottom', b.xMin, b.xMax, b.xTicks, { labels: true, size: b.mb, title: b.xTitle, padding: 9, color: b.frame }),
        y: axis('left', b.yMin, b.yMax, b.yTicks, { labels: true, size: b.ml, title: b.yTitle, reverse: b.reverse, padding: 7, color: b.frame }),
        xTop: axis('top', b.xMin, b.xMax, b.xTicks, { color: b.frame }),
        yRight: axis('right', b.yMin, b.yMax, b.yTicks, { reverse: b.reverse, color: b.frame })
    };
}

function baseOptions(scales, pad) {
    return {
        responsive: false, animation: false, events: [],
        layout: { autoPadding: false, padding: pad },
        plugins: { legend: { display: false }, tooltip: { enabled: false } },
        scales: scales
    };
}

function cellImage(ctx) {
    if (!ctx.raw) return 'rect';
    var r = ctx.raw, sc = ctx.chart.scales;
    var w = Math.ceil(Math.abs(sc.x.getPixelForValue(r.x1) - sc.x.getPixelForValue(r.x0))) + 1;
    var h = Math.ceil(Math.abs(sc.y.getPixelForValue(r.y1) - sc.y.getPixelForValue(r.y0))) + 1;
    var col = parulaAt(Math.round(r.t * 96) / 96);
    var key = col + w + 'x' + h;
    if (!imgCache[key]) {
        var c = document.createElement('canvas');
        c.width = w; c.height = h;
        var g = c.getContext('2d');
        g.fillStyle = col; g.fillRect(0, 0, w, h);
        imgCache[key] = c;
    }
    return imgCache[key];
}

function heatmap(p) {
    var W = p.R - p.L, H = p.B - p.T;
    var holder = document.createElement('div');
    holder.className = 'cells';
    holder.style.cssText = 'left:' + p.L + 'px;top:' + p.T + 'px;width:' + W + 'px;height:' + H + 'px';
    fig.appendChild(holder);
    // cell canvas runs past the frame so the blur does not fade at the edges
    var cv = addCanvas(holder, -p.padX, -p.padY, W + 2 * p.padX, H + 2 * p.padY);
    cv.style.filter = 'url(#' + p.soft + ')';
    var xLo = p.xMin - p.padX * (p.xMax - p.xMin) / W, xHi = p.xMax + p.padX * (p.xMax - p.xMin) / W;
    var yLo = p.yMin - p.padY * (p.yMax - p.yMin) / H, yHi = p.yMax + p.padY * (p.yMax - p.yMin) / H;
    var xE = p.xEdges.slice(), yE = p.yEdges.slice();
    xE[0] = xLo; xE[xE.length - 1] = xHi;
    yE[0] = yLo; yE[yE.length - 1] = yHi;
    var cells = [];
    p.values.forEach(function (row, j) {
        row.forEach(function (v, i) {
            cells.push({
                x: (xE[i] + xE[i + 1]) / 2, y: (yE[j] + yE[j + 1]) / 2,
                x0: xE[i], x1: xE[i + 1], y0: yE[j], y1: yE[j + 1],
                t: (v - p.clim[0]) / (p.clim[1] - p.clim[0])
            });
        });
    });
    var hidden = function (min, max, rev) {
        return { type: 'linear', display: false, min: min, max: max, reverse: !!rev };
    };
    new Chart(cv, {
        type: 'scatter',
        data: { datasets: [{ data: cells, pointStyle: cellImage, pointRadius: 3, clip: false }] },
        options: baseOptions({ x: hidden(xLo, xHi), y: hidden(yLo, yHi, p.reverse) }, 0)
    });

    var over = addCanvas(fig, p.L - p.ml, p.T - 6, W + p.ml + 6, H + 6 + p.mb);
    new Chart(over, {
        type: 'scatter',
        data: { datasets: p.marks },
        options: baseOptions(boxScales(p), { top: 6, right: 6 })
    });
}

function redLine(xs, ys, width, dash) {
    return {
        data: xs.map(function (x, i) { return { x: x, y: ys[i] }; }),
        showLine: true, pointRadius: 0, borderColor: RED, borderWidth: width, borderDash: dash || [], fill: false
    };
}

function colorbar(L, R, T, B, clim, ticks) {
    var c = addCanvas(fig, L, T - 6, R - L + 40, B - T + 12);
    new Chart(c, {
        type: 'bar',
        data: {
            labels: [''],
            datasets: [{
                data: [clim],
                barPercentage: 1, categoryPercentage: 1,
                backgroundColor: function (ctx) {
                    var a = ctx.chart.chartArea;
                    if (!a) return '#888';
                    var g = ctx.chart.ctx.createLinearGradient(0, a.bottom, 0, a.top);
                    parula.forEach(function (s, i) { g.addColorStop(i / (parula.length - 1), 'rgb(' + s.join(',') + ')'); });
                    return g;
                }
            }]
        },
        options: baseOptions({
            x: { type: 'category', display: false, offset: true },
            y: axis('right', clim[0], clim[1], ticks, { labels: true, size: 40, padding: 6, color: '#777' }),
            yLeft: axis('left', clim[0], clim[1], ticks, { color: '#777' }),
            xTop: axis('top', 0, 1, [], { color: '#777' }),
            xBot: axis('bottom', 0, 1, [], { color: '#777' })
        }, { top: 6, bottom: 6 })
    });
}

// panel A
function piece(lo, hi, line, fillCol) {
    var idx = [];
    freqA.forEach(function (f, i) { if (f >= lo && f <= hi) idx.push(i); });
    var pts = function (k) { return idx.map(function (i) { return { x: freqA[i], y: meanA[i] + k * semA[i] }; }); };
    return [
        { data: pts(-1), showLine: true, pointRadius: 0, borderWidth: 0, fill: false },
        { data: pts(1), showLine: true, pointRadius: 0, borderWidth: 0, backgroundColor: fillCol, fill: '-1' },
        { data: pts(0), showLine: true, pointRadius: 0, borderColor: line, borderWidth: 1, fill: false }
    ];
}
var specDatasets = [].concat(
    piece(0, betaBandA[0], '#444', 'rgba(0,0,0,0.24)'),
    piece(betaBandA[1], 50, '#444', 'rgba(0,0,0,0.24)'),
    piece(betaBandA[0], betaBandA[1], '#ee3b3b', 'rgba(255,0,0,0.22)')
);
new Chart(addCanvas(fig, 32, 35, 322, 202), {
    type: 'scatter',
    data: { datasets: specDatasets },
    options: baseOptions(boxScales({
        xMin: 0, xMax: 50, yMin: -30, yMax: -10, xTicks: xTicksA, yTicks: yTicksA,
        xTitle: 'Frequency (Hz)', yTitle: 'Frequency (Hz)', ml: 48, mb: 45, frame: '#555'
    }), { top: 6, right: 6 })
});

var yB = [0.5, 56.5];
heatmap({
    L: 432, R: 662, T: 41, B: 193, ml: 60, mb: 44, soft: 'softRows', padX: 12, padY: 6, values: valuesB, clim: climB, reverse: true,
    xEdges: freqEdges, yEdges: subjEdges, xMin: 0.6, xMax: 49.5, yMin: 0.5, yMax: 56.5, xTicks: freqTicks, yTicks: subjTicks,
    xTitle: 'Frequency (Hz)', yTitle: ['Task amplitude', 'ordered subjects'], frame: '#777',
    marks: [redLine([bandB[0], bandB[0]], yB, 1.2), redLine([bandB[1], bandB[1]], yB, 1.2)]
});
colorbar(670, 685, 41, 193, climB, cbTicksB);

heatmap({
    L: 786, R: 1015, T: 41, B: 193, ml: 60, mb: 44, soft: 'softRows', padX: 12, padY: 6, values: valuesC, clim: climB, reverse: true,
    xEdges: freqEdges, yEdges: subjEdges, xMin: 0.6, xMax: 49.5, yMin: 0.5, yMax: 56.5, xTicks: freqTicks, yTicks: subjTicks,
    xTitle: 'Frequency (Hz)', yTitle: ['Task frequency', 'ordered subjects'], frame: '#777',
    marks: [redLine([bandC[0], bandC[0]], yB, 1.7), redLine([bandC[1], bandC[1]], yB, 1.7)]
});
colorbar(1023, 1038, 41, 193, climB, cbTicksB);

var winTop = windowFreqD[1], winBot = windowFreqD[0];
heatmap({
    L: 80, R: 306, T: 253, B: 405, ml: 43, mb: 40, soft: 'softMap', padX: 18, padY: 8, values: valuesD, clim: climD, reverse: false,
    xEdges: timeEdgesD, yEdges: freqEdgesD, xMin: -1, xMax: 1, yMin: 0, yMax: 50.5, xTicks: xTicksD, yTicks: yTicksD,
    xTitle: 'Time (s)', yTitle: 'Frequency (Hz)', frame: '#777',
    marks: [
        redLine([windowD[0], windowD[0]], [0, 50.5], 1.2, [1.5, 1.5]),
        redLine([windowD[1], windowD[1]], [0, 50.5], 1.2, [1.5, 1.5]),
        redLine([windowD[0], windowD[1], windowD[1], windowD[0], windowD[0]], [winBot, winBot, winTop, winTop, winBot], 1.2)
    ]
});
colorbar(317, 332, 253, 405, climD, cbTicksD);

var bottomRow = [56.2, 56.2];
heatmap({
    L: 432, R: 662, T: 253, B: 405, ml: 60, mb: 40, soft: 'softRows', padX: 12, padY: 6, values: valuesE, clim: climE, reverse: true,
    xEdges: freqEdges, yEdges: subjEdges, xMin: 0.6, xMax: 49.5, yMin: 0.5, yMax: 56.5, xTicks: freqTicks, yTicks: subjTicks,
    xTitle: 'Frequency (Hz)', yTitle: ['Task amplitude', 'ordered subjects'], frame: '#777',
    marks: [
        redLine([bandE[0], bandE[0]], yB, 1.2), redLine([bandE[1], bandE[1]], yB, 1.2),
        redLine([0.6, 49.5], bottomRow, 1, [1.5, 1.5])
    ]
});
colorbar(670, 685, 253, 405, climE, cbTicksE);

heatmap({
    L: 786, R: 1015, T: 253, B: 405, ml: 60, mb: 40, soft: 'softRows', padX: 12, padY: 6, values: valuesF, clim: climF, reverse: true,
    xEdges: freqEdges, yEdges: subjEdges, xMin: 0.6, xMax: 49.5, yMin: 0.5, yMax: 56.5, xTicks: freqTicks, yTicks: subjTicks,
    xTitle: 'Frequency (Hz)', yTitle: ['Task frequency', 'ordered subjects'], frame: '#777',
    marks: [
        redLine([bandF[0], bandF[0]], yB, 1.7), redLine([bandF[1], bandF[1]], yB, 1.7),
        redLine([0.6, 49.5], bottomRow, 1, [1.5, 1.5])
    ]
});
colorbar(1023, 1038, 253, 405, climF, cbTicksF);

// labels around the panels
function label(cls, text, x, y) {
    var d = document.createElement('div');
    d.className = 'txt ' + cls;
    d.textContent = text;
    d.style.left = x + 'px'; d.style.top = y + 'px';
    fig.appendChild(d);
}
label('letter', 'A', 35, 9);
label('letter', 'B', 367, 9);
label('letter', 'C', 725, 9);
label('letter', 'D', 36, 222);
label('letter', 'E', 382, 222);
label('letter', 'F', 725, 222);
label('head', 'Sorted by beta ERD amplitude', 430, 14);
label('head', 'Sorted by beta ERD frequency peak', 785, 14);
label('side', 'Rest', 20, 104);
label('side', 'Task', 22, 324);
label('cbt', 'Task ERD/S (dB)', 358, 329);
label('cbt', 'PSD rest (norm)', 1068, 117);
label('cbt', 'Task ERD/S window (dB)', 1069, 335);

// arrows between rows
function arrow(x, y0, y1) {
    var s = document.createElementNS('http://www.w3.org/2000/svg', 'svg');
    s.setAttribute('width', 1077); s.setAttribute('height', 446);
    s.style.cssText = 'position:absolute;left:0;top:0';
    s.innerHTML = '<line x1="' + x + '" y1="' + y0 + '" x2="' + x + '" y2="' + (y1 + 5) + '" stroke="#222" stroke-width="1.2"/>' +
        '<polygon points="' + (x - 3.5) + ',' + (y1 + 7) + ' ' + (x + 3.5) + ',' + (y1 + 7) + ' ' + x + ',' + y1 + '" fill="#111"/>';
    fig.appendChild(s);
}
arrow(402.7, 259, 193);
arrow(760.7, 255, 190);
</script>
</body>
</html>
